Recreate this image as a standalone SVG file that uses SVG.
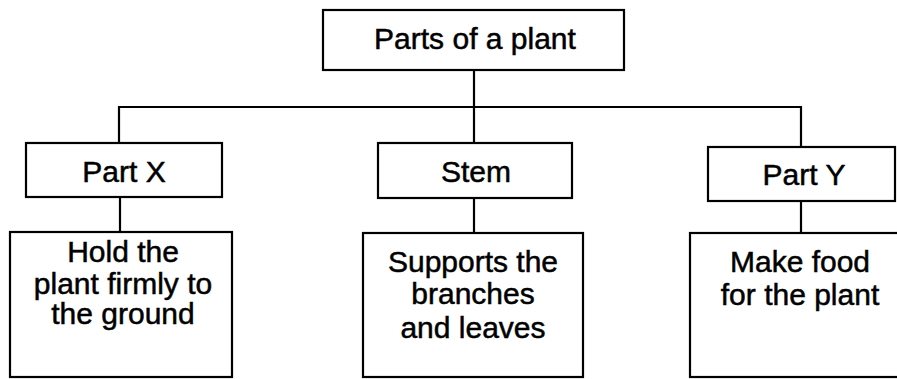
<svg xmlns="http://www.w3.org/2000/svg" width="897" height="379" viewBox="0 0 897 379">
<style>
.box{fill:#fff;stroke:#000;stroke-width:2.2}
.ln{fill:none;stroke:#000;stroke-width:2.2}
text{font-family:"Liberation Sans",Arial,sans-serif;font-size:30px;fill:#000;stroke:#000;stroke-width:0.5;text-anchor:middle}
</style>
<rect width="897" height="379" fill="#fff"/>
<g id="connectors">
<path class="ln" d="M474 70 V107"/>
<path class="ln" d="M119 143 V107 H801 V147"/>
<path class="ln" d="M474 107 V143"/>
<path class="ln" d="M120 197 V232"/>
<path class="ln" d="M474 198 V233"/>
<path class="ln" d="M801 201 V233"/>
</g>
<g id="root">
<rect class="box" x="323" y="10" width="301" height="60"/>
<text x="475" y="49">Parts of a plant</text>
</g>
<g id="partx">
<rect class="box" x="26" y="143" width="196" height="54"/>
<text x="124" y="182">Part X</text>
</g>
<g id="stem">
<rect class="box" x="378" y="143" width="194" height="55"/>
<text x="476" y="182">Stem</text>
</g>
<g id="party">
<rect class="box" x="708" y="147" width="187" height="54"/>
<text x="804" y="185">Part Y</text>
</g>
<g id="rootfn">
<rect class="box" x="10" y="232" width="222" height="145"/>
<text x="123" y="262">Hold the</text>
<text x="123" y="294">plant firmly to</text>
<text x="123" y="324">the ground</text>
</g>
<g id="stemfn">
<rect class="box" x="363" y="233" width="220" height="144"/>
<text x="473" y="272">Supports the</text>
<text x="473" y="304">branches</text>
<text x="473" y="338">and leaves</text>
</g>
<g id="leaffn">
<rect class="box" x="690" y="233" width="212" height="144"/>
<text x="800" y="272">Make food</text>
<text x="800" y="305">for the plant</text>
</g>
</svg>
